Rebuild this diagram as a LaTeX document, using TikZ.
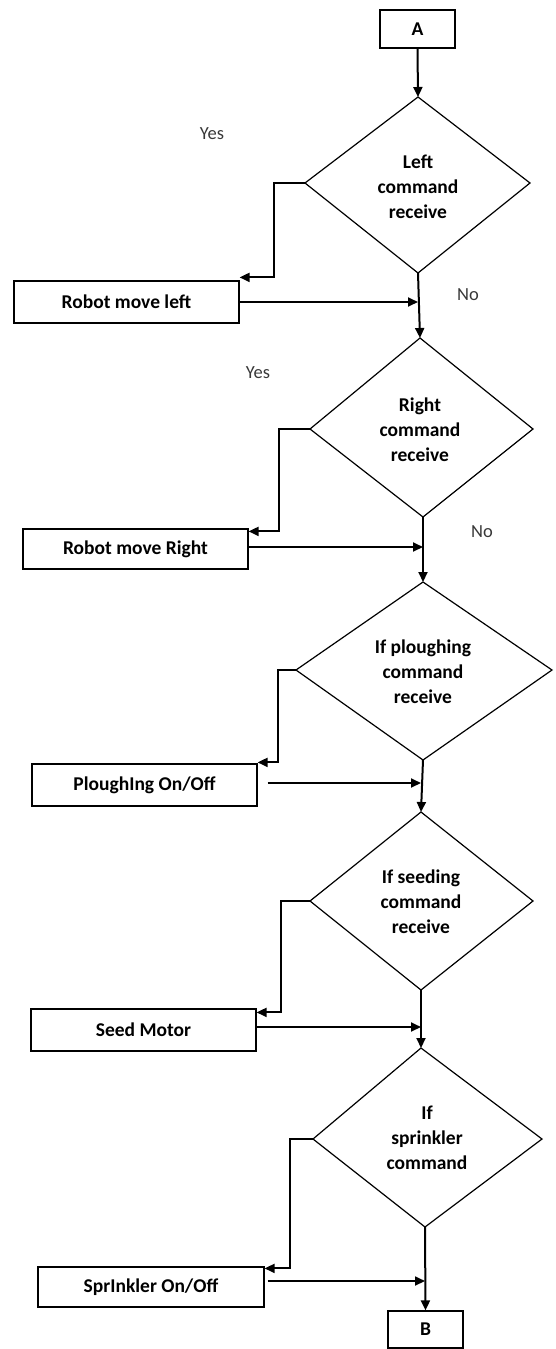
\documentclass[tikz,border=0pt]{standalone}
\usepackage{fontspec}
\setmainfont{Carlito}
\usetikzlibrary{arrows.meta,calc}
\begin{document}
\begin{tikzpicture}[x=1pt,y=-1pt,
  conn/.style={line width=2pt,-{Triangle[length=10pt,width=9pt]}},
  side/.style={line width=1.8pt,-{Triangle[length=10pt,width=9pt]}},
  shp/.style={draw,line width=1.2pt,line join=miter},
  box/.style={draw,line width=1.2pt,minimum width=225pt,minimum height=42pt,inner sep=0pt,
    font=\bfseries\fontsize{19.5}{24}\selectfont},
  small/.style={box,minimum width=75pt,minimum height=38pt},
  dtext/.style={align=center,inner sep=0pt,font=\bfseries\fontsize{19.5}{25}\selectfont},
  lbl/.style={text=black!78,inner sep=0pt,font=\fontsize{18.5}{22}\selectfont}]
\useasboundingbox (0,0) rectangle (555,1349);

% terminal boxes
\node[small] (A) at (417.5,29) {A};
\node[small,minimum height=37pt] (B) at (425.5,1329.5) {B};

% diamonds (vertices)
\coordinate (d1t) at (418,97);  \coordinate (d1r) at (530,183);
\coordinate (d1b) at (418,273); \coordinate (d1l) at (305,183);
\coordinate (d2t) at (420,338); \coordinate (d2r) at (533,429);
\coordinate (d2b) at (423,517); \coordinate (d2l) at (310,429);
\coordinate (d3t) at (423,582); \coordinate (d3r) at (552,670);
\coordinate (d3b) at (423,760); \coordinate (d3l) at (296,670);
\coordinate (d4t) at (421,812); \coordinate (d4r) at (533,901);
\coordinate (d4b) at (421,990); \coordinate (d4l) at (310,901);
\coordinate (d5t) at (421,1048); \coordinate (d5r) at (542,1139);
\coordinate (d5b) at (425,1227); \coordinate (d5l) at (313,1139);

\foreach \d in {d1,d2,d3,d4,d5}
  \draw[shp] (\d t) -- (\d r) -- (\d b) -- (\d l) -- cycle;

\node[dtext] (t1) at (418,187) {Left\\command\\receive};
\node[dtext] (t2) at (420,430) {Right\\command\\receive};
\node[dtext] (t3) at (423,672) {If ploughing\\command\\receive};
\node[dtext] (t4) at (421,902) {If seeding\\command\\receive};
\node[dtext] (t5) at (427,1138) {If\\sprinkler\\command};

% action boxes
\node[box] (L) at (126.5,302) {Robot move left};
\node[box,minimum height=40pt] (R) at (135.5,549) {Robot move Right};
\node[box] (P) at (144.5,785) {PloughIng On/Off};
\node[box] (S) at (143.5,1030) {Seed Motor};
\node[box,minimum width=226pt,minimum height=40pt] (K) at (151,1287) {SprInkler On/Off};

% labels
\node[lbl] (y1) at (212,134) {Yes};
\node[lbl] (y2) at (258,373) {Yes};
\node[lbl] (n1) at (468,295) {No};
\node[lbl] (n2) at (482,532) {No};

% junctions on the main line
\coordinate (j1) at (418,302);
\coordinate (j2) at (423,547);
\coordinate (j3) at (421,783);
\coordinate (j4) at (421,1027);
\coordinate (j5) at (425,1281);

% main line
\draw[conn] (A.south) -- (d1t);
\draw[conn] (d1b) -- (d2t);
\draw[conn] (d2b) -- (d3t);
\draw[conn] (d3b) -- (d4t);
\draw[conn] (d4b) -- (d5t);
\draw[conn] (d5b) -- (B.north);

% yes branches
\draw[conn] (d1l) -- ++(-31,0) |- ([yshift=3pt]L.north east);
\draw[conn] (d2l) -- ++(-31,0) |- ([yshift=-3pt]R.north east);
\draw[conn] (d3l) -- ++(-18,0) |- ([yshift=1pt]P.north east);
\draw[conn] (d4l) -- ++(-29,0) |- ([yshift=-4pt]S.north east);
\draw[conn] (d5l) -- ++(-23,0) |- ([yshift=-2pt]K.north east);

% return arrows
\draw[side] (L.east) -- (j1);
\draw[side] ([yshift=2pt]R.east) -- (j2);
\draw[side] ([xshift=10pt,yshift=2pt]P.east) -- (j3);
\draw[side] ([yshift=3pt]S.east) -- (j4);
\draw[side] ([xshift=3pt,yshift=6pt]K.east) -- (j5);
\end{tikzpicture}
\end{document}
